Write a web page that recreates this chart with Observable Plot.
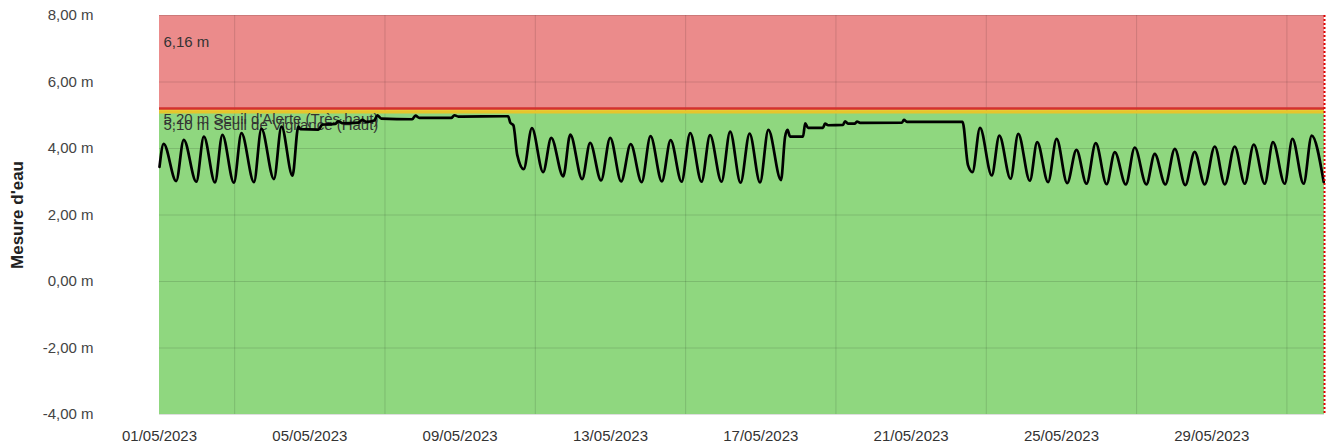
<!DOCTYPE html>
<html><head><meta charset="utf-8">
<script src="https://cdn.jsdelivr.net/npm/d3@7"></script>
<script src="https://cdn.jsdelivr.net/npm/@observablehq/plot@0.6"></script>
<style>body{margin:0;background:#fff;font-family:"Liberation Sans",Arial,sans-serif}</style>
</head><body><div id="chart"></div>
<script>
// ---- data ----
const times = [
"2023-05-01 00:00","2023-05-01 02:40","2023-05-01 10:40","2023-05-01 15:30","2023-05-01 23:30",
"2023-05-02 04:20","2023-05-02 11:25","2023-05-02 16:10","2023-05-02 23:30",
"2023-05-03 04:20","2023-05-03 12:20","2023-05-03 17:05","2023-05-04 01:05",
"2023-05-04 05:55","2023-05-04 12:55","2023-05-04 16:40","2023-05-04 18:00",
"2023-05-05 05:30","2023-05-05 08:00","2023-05-05 16:20","2023-05-05 18:00","2023-05-05 20:50",
"2023-05-06 07:00","2023-05-06 09:30","2023-05-06 12:00","2023-05-06 17:10","2023-05-06 19:05","2023-05-06 21:40",
"2023-05-07 17:25","2023-05-07 19:25","2023-05-07 22:00",
"2023-05-08 18:20","2023-05-08 20:20","2023-05-08 22:50",
"2023-05-10 06:40","2023-05-10 08:00","2023-05-10 10:00","2023-05-10 12:30","2023-05-10 16:35",
"2023-05-10 21:50","2023-05-11 05:00","2023-05-11 10:10","2023-05-11 17:50","2023-05-11 22:20",
"2023-05-12 05:55","2023-05-12 11:00","2023-05-12 18:00","2023-05-12 23:50",
"2023-05-13 06:50","2023-05-13 12:55","2023-05-13 19:55","2023-05-14 01:35",
"2023-05-14 08:50","2023-05-14 14:25","2023-05-14 21:25","2023-05-15 02:55",
"2023-05-15 10:10","2023-05-15 15:35","2023-05-15 22:55","2023-05-16 04:25",
"2023-05-16 11:05","2023-05-16 16:50","2023-05-16 23:30","2023-05-17 04:50",
"2023-05-17 12:55","2023-05-17 15:30","2023-05-17 17:05","2023-05-17 18:40",
"2023-05-18 03:00","2023-05-18 04:20","2023-05-18 06:10","2023-05-18 15:45","2023-05-18 17:00","2023-05-18 19:00",
"2023-05-19 04:30","2023-05-19 05:50","2023-05-19 07:40","2023-05-19 12:10","2023-05-19 13:25","2023-05-19 15:25",
"2023-05-20 18:10","2023-05-20 19:25","2023-05-20 21:20",
"2023-05-22 08:50","2023-05-22 12:20","2023-05-22 15:10",
"2023-05-22 20:00","2023-05-23 03:30","2023-05-23 08:20","2023-05-23 15:30","2023-05-23 20:25",
"2023-05-24 03:50","2023-05-24 08:30","2023-05-24 15:30","2023-05-24 20:55",
"2023-05-25 03:40","2023-05-25 09:35","2023-05-25 16:00","2023-05-25 21:55",
"2023-05-26 04:50","2023-05-26 10:05","2023-05-26 17:05","2023-05-26 22:50",
"2023-05-27 06:15","2023-05-27 11:35","2023-05-27 18:20","2023-05-28 00:25",
"2023-05-28 07:05","2023-05-28 13:05","2023-05-28 19:30","2023-05-29 01:55",
"2023-05-29 08:20","2023-05-29 14:40","2023-05-29 21:05","2023-05-30 02:50",
"2023-05-30 09:50","2023-05-30 15:05","2023-05-30 22:35","2023-05-31 03:30",
"2023-05-31 10:40","2023-05-31 15:50","2023-05-31 23:30"
];
const levels = [
3.45,4.14,3.02,4.26,3.00,
4.36,2.98,4.41,2.97,
4.46,2.99,4.59,3.08,
4.66,3.18,4.66,4.58,
4.57,4.72,4.74,4.82,4.76,
4.78,4.86,4.80,4.84,5.00,4.90,
4.88,4.99,4.92,
4.92,5.00,4.96,
4.97,4.78,4.70,3.80,3.38,
4.61,3.29,4.32,3.16,4.42,
3.08,4.17,3.04,4.32,
3.01,4.13,2.99,4.37,
3.01,4.25,3.00,4.46,
3.00,4.40,3.00,4.51,
2.97,4.45,2.98,4.56,
3.05,4.35,4.56,4.36,
4.36,4.76,4.62,4.62,4.75,4.70,
4.71,4.82,4.75,4.75,4.81,4.77,
4.78,4.86,4.80,
4.80,3.50,3.29,
4.62,3.19,4.39,3.09,4.44,
3.03,4.19,2.99,4.29,
2.96,3.96,2.94,4.16,
2.93,3.89,2.92,4.03,
2.92,3.84,2.92,3.99,
2.90,3.90,2.92,4.06,
2.92,4.06,2.94,4.12,
2.94,4.19,2.94,4.29,
2.94,4.39,2.99
];
const yTicks = [-4, -2, 0, 2, 4, 6, 8];
const xTickDates = ["2023-05-01 00:00","2023-05-05 00:00","2023-05-09 00:00","2023-05-13 00:00","2023-05-17 00:00","2023-05-21 00:00","2023-05-25 00:00","2023-05-29 00:00"];
const xGridDates = ["2023-05-03 00:00","2023-05-07 00:00","2023-05-11 00:00","2023-05-15 00:00","2023-05-19 00:00","2023-05-23 00:00","2023-05-27 00:00","2023-05-31 00:00"];
const xDomain = ["2023-05-01 00:00","2023-06-01 00:00"];
const zoneLows  = [-4, 5.10, 5.20];
const zoneHighs = [5.10, 5.20, 8];
const thresholdValues = [5.20, 5.10];
const thresholdLabels = ["5,20 m Seuil d'Alerte (Très haut)", "5,10 m Seuil de Vigilance (Haut)"];
const maxLabel = "6,16 m";
const endMarker = ["2023-06-01 00:00"];
const yTitle = "Mesure d'eau";

// ---- build ----
const parse = d3.timeParse("%Y-%m-%d %H:%M");
const data = times.map((t, i) => ({date: parse(t), level: levels[i]}));
const zoneFill = ["#8fd77f", "#e9d23e", "#eb8b8b"];
const font = "'Liberation Sans', Arial, sans-serif";
const fmtY = d => d.toFixed(2).replace(".", ",") + " m";

const chart = Plot.plot({
  width: 1332, height: 447,
  marginTop: 15, marginBottom: 33, marginLeft: 159, marginRight: 8,
  style: {fontFamily: font, fontSize: "15px", background: "#fff", color: "#333"},
  x: {type: "time", domain: xDomain.map(parse)},
  y: {domain: [-4, 8]},
  marks: [
    ...zoneLows.map((lo, i) => Plot.rect([0], {y1: () => lo, y2: () => zoneHighs[i], fill: zoneFill[i]})),
    Plot.ruleY(yTicks, {stroke: "#000", strokeOpacity: 0.13}),
    Plot.ruleX(xGridDates.map(parse), {stroke: "#000", strokeOpacity: 0.13}),
    Plot.ruleY([thresholdValues[1]], {stroke: "#e6c52c", strokeWidth: 3}),
    Plot.ruleY([thresholdValues[0]], {stroke: "#d3312e", strokeWidth: 2.5}),
    Plot.text([thresholdLabels[0]], {y: () => thresholdValues[0], frameAnchor: "left", textAnchor: "start", dx: 4, dy: 11, fill: "#333", fontSize: 15}),
    Plot.text([thresholdLabels[1]], {y: () => thresholdValues[1], frameAnchor: "left", textAnchor: "start", dx: 4, dy: 13, fill: "#333", fontSize: 15}),
    Plot.text([maxLabel], {frameAnchor: "top-left", textAnchor: "start", lineAnchor: "middle", dx: 4, dy: 27, fill: "#333", fontSize: 15}),
    Plot.line(data, {x: "date", y: "level", stroke: "#000", strokeWidth: 2.7, curve: "monotone-x"}),
    Plot.ruleX(endMarker.map(parse), {stroke: "#d00", strokeWidth: 2, strokeDasharray: "2,2"}),
    Plot.axisY(yTicks, {tickSize: 0, tickPadding: 66, tickFormat: fmtY, label: null, fill: "#444", fontSize: 15}),
    Plot.axisX(xTickDates.map(parse), {tickSize: 0, tickPadding: 16, tickFormat: d3.timeFormat("%d/%m/%Y"), label: null, fill: "#333", fontSize: 15}),
    Plot.text([yTitle], {frameAnchor: "left", textAnchor: "middle", dx: -142, rotate: -90, fontWeight: "bold", fontSize: 17, fill: "#222"})
  ]
});
document.getElementById("chart").appendChild(chart);
</script>
</body></html>
